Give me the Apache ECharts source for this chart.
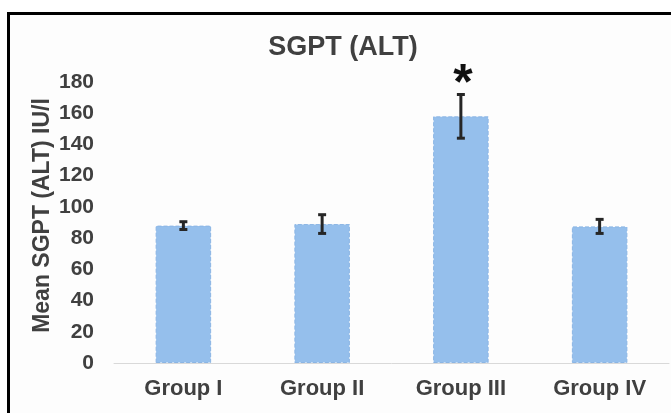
<!DOCTYPE html>
<html>
<head>
<meta charset="utf-8">
<script src="https://cdn.jsdelivr.net/npm/echarts@6/dist/echarts.min.js"></script>
<style>
  html, body { margin: 0; padding: 0; background: #ffffff; }
  #chart { width: 671px; height: 413px; }
</style>
</head>
<body>
<div id="chart"></div>
<script>
// Serum SGPT (ALT) by treatment group: mean with error bars
const categories = ['Group I', 'Group II', 'Group III', 'Group IV'];
const meanALT = [88, 89, 158, 87.5];
const errALT = [2.5, 6, 14, 4.5];
const significance = ['', '', '*', ''];
const yTicks = { min: 0, max: 180, interval: 20 };

const FONT = '"Liberation Sans", Arial, sans-serif';
const TEXT = '#404040';

const chart = echarts.init(document.getElementById('chart'), null, { renderer: 'canvas' });

const errData = categories.map((c, i) => [i, meanALT[i] - errALT[i], meanALT[i] + errALT[i], significance[i]]);

chart.setOption({
  animation: false,
  backgroundColor: '#ffffff',
  graphic: [{
    type: 'rect',
    z: -10,
    shape: { x: 8.5, y: 13.5, width: 700, height: 440 },
    style: { fill: '#fdfdfd', stroke: '#000000', lineWidth: 3 }
  }],
  title: {
    text: 'SGPT (ALT)',
    left: 338,
    textAlign: 'center',
    top: 29,
    textStyle: { fontFamily: FONT, fontSize: 27, fontWeight: 'bold', color: TEXT }
  },
  grid: { left: 114, right: 2, top: 82, bottom: 50 },
  xAxis: {
    type: 'category',
    data: categories,
    axisLine: { show: true, lineStyle: { color: '#d9d9d9', width: 1 } },
    axisTick: { show: false },
    axisLabel: { fontFamily: FONT, fontSize: 22, fontWeight: 'bold', color: TEXT, margin: 15 }
  },
  yAxis: {
    type: 'value',
    min: yTicks.min,
    max: yTicks.max,
    interval: yTicks.interval,
    name: 'Mean SGPT (ALT) IU/l',
    nameLocation: 'middle',
    nameGap: 60,
    nameMoveOverlap: false,
    nameRotate: 90,
    nameTextStyle: { fontFamily: FONT, fontSize: 23, fontWeight: 'bold', color: TEXT, padding: [0, 0, 0, 14] },
    axisLine: { show: false },
    axisTick: { show: false },
    splitLine: { show: false },
    axisLabel: { fontFamily: FONT, fontSize: 21, fontWeight: 'bold', color: TEXT, margin: 20 }
  },
  series: [{
    type: 'bar',
    data: meanALT,
    barWidth: '40%',
    itemStyle: { color: '#95bfec', borderColor: '#8bb5e4', borderWidth: 1, borderType: 'dashed' }
  }, {
    type: 'custom',
    data: errData,
    z: 5,
    encode: { x: 0, y: [1, 2] },
    renderItem: function (params, api) {
      const x = api.value(0);
      const lo = api.coord([x, api.value(1)]);
      const hi = api.coord([x, api.value(2)]);
      const cap = 4;
      const style = { stroke: '#262626', lineWidth: 3 };
      const children = [
        { type: 'line', shape: { x1: hi[0], y1: hi[1], x2: lo[0], y2: lo[1] }, style: style },
        { type: 'line', shape: { x1: hi[0] - cap, y1: hi[1], x2: hi[0] + cap, y2: hi[1] }, style: style },
        { type: 'line', shape: { x1: lo[0] - cap, y1: lo[1], x2: lo[0] + cap, y2: lo[1] }, style: style }
      ];
      const mark = api.value(3);
      if (mark) {
        children.push({
          type: 'text',
          style: {
            text: mark, x: hi[0] + 2, y: hi[1] + 16,
            align: 'center', verticalAlign: 'bottom',
            font: 'bold 50px ' + FONT, fill: '#111111'
          }
        });
      }
      return { type: 'group', children: children };
    }
  }]
});
</script>
</body>
</html>
